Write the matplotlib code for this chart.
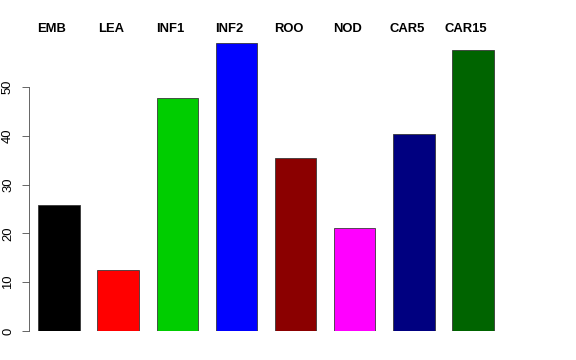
import matplotlib.pyplot as plt
import numpy as np

labels = ["EMB", "LEA", "INF1", "INF2", "ROO", "NOD", "CAR5", "CAR15"]
values = [25.8, 12.5, 47.7, 59.0, 35.5, 21.1, 40.4, 57.6]
colors = ["black", "red", "#00CD00", "blue", "#8B0000", "magenta", "#000080", "#006400"]
yticks = [0, 10, 20, 30, 40, 50]

plt.rcParams['font.family'] = ['Liberation Sans', 'DejaVu Sans']

fig = plt.figure(figsize=(8, 5), dpi=72)
ax = fig.add_axes([29 / 576, 29 / 360, 474 / 576, 293 / 360])

x = np.arange(len(values))
ax.bar(x, values, width=0.7, color=colors, edgecolor="#333333", linewidth=0.8)

ax.set_xlim(-0.508, 7.508)
ax.set_ylim(0, 60)

for s in ["top", "right", "bottom"]:
    ax.spines[s].set_visible(False)
ax.spines["left"].set_bounds(0, 50)
ax.spines["left"].set_color("#444444")
ax.set_xticks([])
ax.set_yticks(yticks)
ax.set_yticklabels([str(t) for t in yticks], rotation=90, va="center", fontsize=13)
ax.tick_params(axis="y", length=7, color="#444444", pad=8)

# bold labels above the bars, slightly left of each bar centre
for xi, lab in zip(x, labels):
    ax.text(xi - 0.12, 1.03, lab, transform=ax.get_xaxis_transform(),
            ha="center", va="center", fontsize=13, fontweight="bold")

fig.savefig("out.png", dpi=72)
